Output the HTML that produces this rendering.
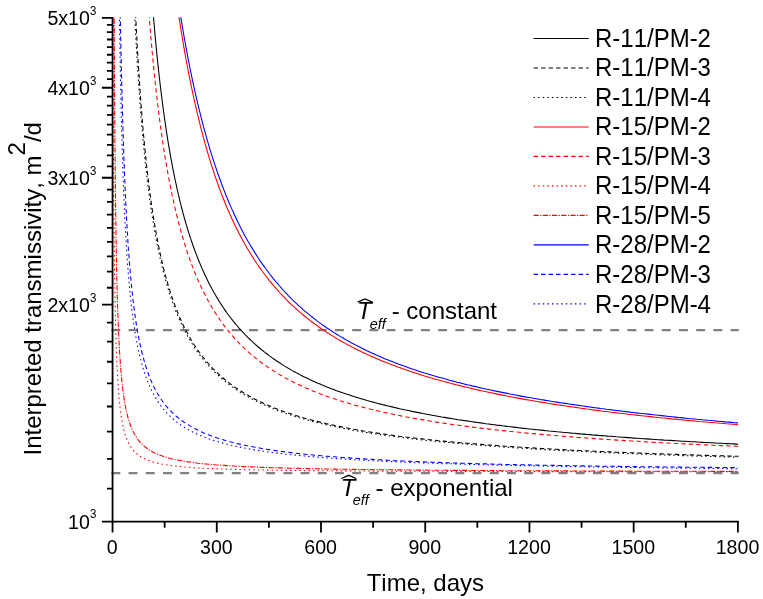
<!DOCTYPE html>
<html><head><meta charset="utf-8"><title>Interpreted transmissivity</title>
<style>
html,body{margin:0;padding:0;background:#fff;}
body{width:763px;height:599px;overflow:hidden;}
svg{display:block;will-change:transform;}
text{font-family:"Liberation Sans",sans-serif;fill:#000;font-kerning:none;}
.tk{font-size:19.6px;}
.sup{font-size:11.5px;}
.lg{font-size:24px;}
.ax{font-size:24px;}
</style></head><body>
<svg width="763" height="599" viewBox="0 0 763 599">
<defs><clipPath id="cp"><rect x="111.8" y="17.3" width="626.9" height="505"/></clipPath></defs>

<g stroke="#808080" stroke-width="2.2" stroke-dasharray="8.9 8.3" fill="none">
<path d="M111.4,330.1 H738.8"/>
<path d="M111.4,473.1 H738.8"/>
</g>
<g clip-path="url(#cp)" fill="none" stroke-width="1.08" stroke-linejoin="round">
<path d="M152.6,6.1 L152.8,9.1 L153.1,12.2 L153.3,15.2 L153.6,18.2 L153.8,21.1 L154.1,24.0 L154.3,26.8 L154.6,29.7 L154.8,32.4 L155.3,37.9 L155.8,43.2 L156.3,48.4 L156.8,53.4 L157.3,58.4 L157.8,63.2 L158.3,67.9 L158.8,72.5 L159.3,77.0 L159.8,81.3 L160.3,85.6 L160.8,89.8 L161.3,93.9 L161.8,97.9 L162.3,101.8 L162.8,105.7 L163.3,109.4 L163.8,113.1 L164.3,116.7 L164.8,120.2 L165.3,123.7 L165.8,127.1 L166.3,130.4 L166.8,133.7 L167.3,136.9 L167.8,140.0 L168.3,143.1 L168.8,146.1 L169.3,149.0 L169.8,151.9 L170.3,154.8 L170.8,157.6 L171.3,160.3 L171.8,163.0 L172.3,165.7 L172.8,168.3 L173.3,170.9 L173.8,173.4 L174.6,177.1 L175.3,180.7 L176.1,184.2 L176.8,187.6 L177.6,191.0 L178.3,194.2 L179.1,197.4 L179.8,200.5 L180.6,203.6 L181.3,206.6 L182.1,209.5 L182.8,212.3 L183.6,215.1 L184.3,217.8 L185.1,220.5 L185.8,223.1 L186.6,225.6 L187.3,228.1 L188.1,230.6 L188.8,233.0 L189.6,235.3 L190.3,237.6 L191.1,239.9 L192.1,242.8 L193.1,245.7 L194.1,248.5 L195.1,251.2 L196.1,253.9 L197.1,256.5 L198.1,259.0 L199.1,261.5 L200.1,263.9 L201.1,266.3 L202.1,268.6 L203.1,270.8 L204.1,273.0 L205.1,275.2 L206.1,277.3 L207.1,279.4 L208.1,281.4 L209.3,283.9 L210.6,286.3 L211.8,288.6 L213.1,290.9 L214.3,293.1 L215.6,295.3 L216.8,297.4 L218.1,299.5 L219.3,301.5 L220.6,303.5 L221.8,305.4 L223.1,307.3 L224.3,309.1 L225.6,310.9 L226.8,312.7 L228.3,314.7 L229.8,316.7 L231.3,318.7 L232.8,320.6 L234.3,322.4 L235.8,324.3 L237.3,326.0 L238.8,327.8 L240.3,329.4 L241.8,331.1 L243.3,332.7 L244.8,334.3 L246.3,335.8 L247.8,337.3 L249.6,339.0 L251.3,340.7 L253.1,342.3 L254.8,343.9 L256.6,345.5 L258.3,347.0 L260.1,348.5 L261.8,349.9 L263.6,351.3 L265.3,352.7 L267.1,354.0 L268.8,355.4 L270.6,356.6 L272.3,357.9 L274.3,359.3 L276.3,360.7 L278.3,362.0 L280.3,363.3 L282.3,364.6 L284.3,365.9 L286.3,367.1 L288.3,368.3 L290.3,369.4 L292.3,370.6 L294.3,371.7 L296.3,372.8 L298.3,373.8 L300.3,374.9 L302.3,375.9 L304.3,376.9 L306.6,378.0 L308.8,379.1 L311.1,380.2 L313.3,381.2 L315.6,382.2 L317.8,383.2 L320.1,384.1 L322.3,385.1 L324.6,386.0 L326.8,386.9 L329.1,387.8 L331.3,388.7 L333.6,389.5 L335.8,390.4 L338.1,391.2 L340.3,392.0 L342.6,392.8 L344.8,393.5 L347.1,394.3 L349.6,395.1 L352.1,395.9 L354.6,396.7 L357.1,397.5 L359.6,398.3 L362.1,399.0 L364.6,399.7 L367.1,400.5 L369.6,401.2 L372.1,401.9 L374.6,402.5 L377.1,403.2 L379.6,403.9 L382.1,404.5 L384.6,405.1 L387.1,405.7 L389.6,406.3 L392.1,406.9 L394.6,407.5 L397.1,408.1 L399.6,408.7 L402.1,409.2 L404.6,409.8 L407.1,410.3 L409.6,410.8 L412.1,411.4 L414.6,411.9 L417.1,412.4 L419.8,412.9 L422.6,413.5 L425.3,414.0 L428.1,414.5 L430.8,415.0 L433.6,415.5 L436.3,416.0 L439.1,416.5 L441.8,417.0 L444.6,417.4 L447.3,417.9 L450.1,418.4 L452.8,418.8 L455.6,419.2 L458.3,419.7 L461.1,420.1 L463.8,420.5 L466.6,420.9 L469.3,421.3 L472.1,421.7 L474.8,422.1 L477.6,422.5 L480.3,422.9 L483.1,423.3 L485.8,423.7 L488.6,424.0 L491.3,424.4 L494.1,424.7 L496.8,425.1 L499.6,425.4 L502.3,425.8 L505.1,426.1 L507.8,426.5 L510.6,426.8 L513.3,427.1 L516.0,427.4 L518.8,427.7 L521.5,428.1 L524.3,428.4 L527.0,428.7 L529.8,429.0 L532.5,429.3 L535.3,429.6 L538.0,429.8 L540.8,430.1 L543.5,430.4 L546.3,430.7 L549.0,431.0 L551.8,431.2 L554.5,431.5 L557.3,431.8 L560.0,432.0 L562.8,432.3 L565.5,432.5 L568.3,432.8 L571.3,433.1 L574.3,433.3 L577.3,433.6 L580.3,433.9 L583.3,434.1 L586.3,434.4 L589.3,434.6 L592.3,434.9 L595.3,435.1 L598.3,435.4 L601.3,435.6 L604.3,435.8 L607.3,436.1 L610.3,436.3 L613.3,436.5 L616.3,436.8 L619.3,437.0 L622.3,437.2 L625.3,437.4 L628.3,437.6 L631.3,437.9 L634.3,438.1 L637.3,438.3 L640.3,438.5 L643.3,438.7 L646.3,438.9 L649.3,439.1 L652.3,439.3 L655.3,439.5 L658.3,439.7 L661.3,439.9 L664.3,440.1 L667.3,440.2 L670.3,440.4 L673.3,440.6 L676.3,440.8 L679.3,441.0 L682.3,441.2 L685.3,441.3 L688.3,441.5 L691.3,441.7 L694.3,441.8 L697.3,442.0 L700.3,442.2 L703.3,442.4 L706.3,442.5 L709.3,442.7 L712.3,442.8 L715.3,443.0 L718.3,443.2 L721.3,443.3 L724.3,443.5 L727.3,443.6 L730.3,443.8 L733.3,443.9 L736.3,444.1 L738.2,444.2" stroke="#000" />
<path d="M135.2,6.4 L135.4,9.4 L135.5,12.3 L135.6,15.2 L135.8,18.5 L136.0,21.7 L136.1,24.8 L136.3,28.0 L136.4,31.0 L136.6,34.1 L136.8,37.1 L136.9,40.0 L137.1,42.9 L137.2,45.8 L137.4,49.0 L137.6,52.1 L137.8,55.2 L138.0,58.2 L138.1,61.2 L138.3,64.2 L138.5,67.1 L138.7,70.0 L138.9,72.8 L139.1,75.9 L139.3,79.0 L139.5,82.0 L139.7,84.9 L139.9,87.8 L140.1,90.7 L140.3,93.5 L140.5,96.6 L140.7,99.6 L140.9,102.6 L141.1,105.5 L141.4,108.3 L141.6,111.2 L141.8,114.2 L142.1,117.2 L142.3,120.1 L142.5,123.0 L142.8,125.8 L143.0,128.6 L143.3,131.6 L143.5,134.5 L143.8,137.3 L144.1,140.2 L144.3,142.9 L144.6,145.9 L144.9,148.7 L145.2,151.6 L145.4,154.3 L145.7,157.1 L146.0,159.9 L146.3,162.8 L146.6,165.5 L146.9,168.3 L147.2,171.1 L147.6,173.9 L147.9,176.6 L148.2,179.3 L148.5,182.1 L148.9,184.9 L149.2,187.6 L149.6,190.4 L149.9,193.1 L150.3,195.8 L150.7,198.5 L151.0,201.2 L151.4,203.9 L151.8,206.5 L152.2,209.2 L152.6,211.9 L153.0,214.5 L153.6,218.0 L154.1,221.1 L154.6,224.1 L155.1,227.0 L155.6,229.9 L156.1,232.7 L156.6,235.5 L157.1,238.1 L157.6,240.8 L158.1,243.3 L158.6,245.8 L159.3,249.5 L160.1,253.0 L160.8,256.4 L161.6,259.8 L162.3,263.0 L163.1,266.1 L163.8,269.1 L164.6,272.1 L165.3,274.9 L166.1,277.7 L166.8,280.4 L167.6,283.0 L168.3,285.6 L169.1,288.1 L169.8,290.5 L170.6,292.8 L171.3,295.1 L172.3,298.1 L173.3,301.0 L174.3,303.7 L175.3,306.4 L176.3,309.0 L177.3,311.6 L178.3,314.0 L179.3,316.4 L180.3,318.7 L181.3,320.9 L182.3,323.1 L183.3,325.2 L184.3,327.2 L185.6,329.7 L186.8,332.1 L188.1,334.4 L189.3,336.7 L190.6,338.8 L191.8,340.9 L193.1,343.0 L194.3,345.0 L195.6,346.9 L196.8,348.7 L198.1,350.5 L199.3,352.3 L200.8,354.3 L202.3,356.3 L203.8,358.2 L205.3,360.0 L206.8,361.8 L208.3,363.5 L209.8,365.2 L211.3,366.8 L212.8,368.4 L214.3,369.9 L216.1,371.7 L217.8,373.3 L219.6,375.0 L221.3,376.5 L223.1,378.0 L224.8,379.5 L226.6,380.9 L228.3,382.3 L230.1,383.6 L231.8,384.9 L233.6,386.2 L235.6,387.6 L237.6,389.0 L239.6,390.3 L241.6,391.5 L243.6,392.8 L245.6,394.0 L247.6,395.1 L249.6,396.3 L251.6,397.4 L253.6,398.4 L255.6,399.4 L257.6,400.5 L259.8,401.6 L262.1,402.6 L264.3,403.7 L266.6,404.7 L268.8,405.6 L271.1,406.6 L273.3,407.5 L275.6,408.4 L277.8,409.3 L280.1,410.1 L282.3,411.0 L284.6,411.8 L286.8,412.5 L289.1,413.3 L291.6,414.1 L294.1,414.9 L296.6,415.7 L299.1,416.5 L301.6,417.2 L304.1,418.0 L306.6,418.7 L309.1,419.3 L311.6,420.0 L314.1,420.7 L316.6,421.3 L319.1,421.9 L321.6,422.5 L324.1,423.1 L326.6,423.7 L329.1,424.3 L331.6,424.8 L334.1,425.4 L336.6,425.9 L339.1,426.4 L341.6,426.9 L344.3,427.5 L347.1,428.0 L349.8,428.5 L352.6,429.0 L355.3,429.5 L358.1,430.0 L360.8,430.5 L363.6,431.0 L366.3,431.4 L369.1,431.9 L371.8,432.3 L374.6,432.7 L377.3,433.1 L380.1,433.5 L382.8,433.9 L385.6,434.3 L388.3,434.7 L391.1,435.1 L393.8,435.5 L396.6,435.8 L399.3,436.2 L402.1,436.5 L404.8,436.9 L407.6,437.2 L410.3,437.6 L413.1,437.9 L415.8,438.2 L418.6,438.5 L421.3,438.8 L424.1,439.1 L426.8,439.4 L429.6,439.7 L432.3,440.0 L435.1,440.3 L437.8,440.6 L440.6,440.8 L443.3,441.1 L446.1,441.4 L448.8,441.6 L451.6,441.9 L454.3,442.1 L457.3,442.4 L460.3,442.7 L463.3,442.9 L466.3,443.2 L469.3,443.4 L472.3,443.7 L475.3,443.9 L478.3,444.2 L481.3,444.4 L484.3,444.6 L487.3,444.9 L490.3,445.1 L493.3,445.3 L496.3,445.5 L499.3,445.8 L502.3,446.0 L505.3,446.2 L508.3,446.4 L511.3,446.6 L514.3,446.8 L517.3,447.0 L520.3,447.2 L523.3,447.4 L526.3,447.5 L529.3,447.7 L532.3,447.9 L535.3,448.1 L538.3,448.3 L541.3,448.5 L544.3,448.6 L547.3,448.8 L550.3,449.0 L553.3,449.1 L556.3,449.3 L559.3,449.5 L562.3,449.6 L565.3,449.8 L568.3,449.9 L571.3,450.1 L574.3,450.2 L577.3,450.4 L580.3,450.5 L583.3,450.7 L586.3,450.8 L589.3,451.0 L592.3,451.1 L595.3,451.2 L598.3,451.4 L601.3,451.5 L604.3,451.6 L607.3,451.8 L610.3,451.9 L613.3,452.0 L616.3,452.2 L619.3,452.3 L622.3,452.4 L625.3,452.5 L628.3,452.7 L631.3,452.8 L634.3,452.9 L637.3,453.0 L640.3,453.1 L643.3,453.2 L646.3,453.4 L649.3,453.5 L652.3,453.6 L655.3,453.7 L658.3,453.8 L661.3,453.9 L664.3,454.0 L667.3,454.1 L670.3,454.2 L673.3,454.3 L676.3,454.4 L679.3,454.5 L682.3,454.6 L685.3,454.7 L688.3,454.8 L691.3,454.9 L694.3,455.0 L697.3,455.1 L700.3,455.2 L703.3,455.3 L706.3,455.4 L709.3,455.5 L712.3,455.6 L715.3,455.7 L718.3,455.8 L721.3,455.8 L724.3,455.9 L727.3,456.0 L730.3,456.1 L733.3,456.2 L736.3,456.3 L738.7,456.3" stroke="#000" stroke-dasharray="4.4 3.1"/>
<path d="M134.3,6.0 L134.4,9.0 L134.5,12.0 L134.7,14.9 L134.8,17.7 L135.0,21.0 L135.1,24.2 L135.3,27.3 L135.5,30.4 L135.6,33.5 L135.8,36.5 L135.9,39.4 L136.1,42.4 L136.3,45.3 L136.4,48.1 L136.6,51.3 L136.8,54.4 L137.0,57.5 L137.1,60.5 L137.3,63.5 L137.5,66.4 L137.7,69.3 L137.9,72.2 L138.1,75.3 L138.3,78.3 L138.5,81.4 L138.7,84.4 L138.9,87.3 L139.1,90.2 L139.3,93.0 L139.5,95.8 L139.7,98.9 L139.9,101.8 L140.1,104.8 L140.3,107.7 L140.6,110.5 L140.8,113.3 L141.0,116.3 L141.3,119.3 L141.5,122.2 L141.7,125.1 L142.0,127.9 L142.2,130.6 L142.5,133.6 L142.7,136.5 L143.0,139.3 L143.3,142.1 L143.5,144.9 L143.8,147.8 L144.1,150.7 L144.4,153.5 L144.6,156.2 L144.9,159.1 L145.2,162.0 L145.5,164.8 L145.8,167.5 L146.1,170.2 L146.5,173.1 L146.8,175.8 L147.1,178.6 L147.4,181.4 L147.8,184.2 L148.1,186.9 L148.5,189.6 L148.8,192.4 L149.2,195.1 L149.5,197.8 L149.9,200.5 L150.3,203.3 L150.7,205.9 L151.1,208.7 L151.5,211.3 L151.9,214.0 L152.4,217.3 L152.9,220.4 L153.4,223.5 L153.9,226.5 L154.4,229.4 L154.9,232.2 L155.4,235.0 L155.9,237.7 L156.4,240.4 L156.9,242.9 L157.4,245.5 L158.2,249.2 L158.9,252.7 L159.7,256.2 L160.4,259.6 L161.2,262.8 L161.9,266.0 L162.7,269.0 L163.4,272.0 L164.2,274.9 L164.9,277.7 L165.7,280.4 L166.4,283.1 L167.2,285.6 L167.9,288.1 L168.7,290.6 L169.4,293.0 L170.2,295.3 L170.9,297.5 L171.9,300.4 L172.9,303.3 L173.9,306.0 L174.9,308.6 L175.9,311.2 L176.9,313.7 L177.9,316.1 L178.9,318.4 L179.9,320.7 L180.9,322.9 L181.9,325.0 L182.9,327.1 L183.9,329.1 L185.2,331.6 L186.4,334.0 L187.7,336.2 L188.9,338.5 L190.2,340.6 L191.4,342.7 L192.7,344.7 L193.9,346.6 L195.2,348.5 L196.4,350.4 L197.7,352.1 L199.2,354.2 L200.7,356.2 L202.2,358.1 L203.7,360.0 L205.2,361.8 L206.7,363.6 L208.2,365.3 L209.7,366.9 L211.2,368.5 L212.7,370.1 L214.2,371.6 L215.9,373.3 L217.7,374.9 L219.4,376.5 L221.2,378.1 L222.9,379.6 L224.7,381.0 L226.4,382.4 L228.2,383.8 L229.9,385.1 L231.7,386.4 L233.7,387.8 L235.7,389.2 L237.7,390.5 L239.7,391.8 L241.7,393.1 L243.7,394.3 L245.7,395.5 L247.7,396.6 L249.7,397.7 L251.7,398.8 L253.7,399.8 L255.7,400.9 L257.9,402.0 L260.2,403.0 L262.4,404.1 L264.7,405.1 L266.9,406.1 L269.2,407.1 L271.4,408.0 L273.7,408.9 L275.9,409.8 L278.2,410.7 L280.4,411.5 L282.7,412.3 L284.9,413.1 L287.2,413.9 L289.4,414.6 L291.9,415.4 L294.4,416.2 L296.9,417.0 L299.4,417.8 L301.9,418.5 L304.4,419.2 L306.9,419.9 L309.4,420.6 L311.9,421.2 L314.4,421.9 L316.9,422.5 L319.4,423.1 L321.9,423.7 L324.4,424.3 L326.9,424.9 L329.4,425.5 L331.9,426.0 L334.4,426.5 L336.9,427.1 L339.4,427.6 L341.9,428.1 L344.7,428.6 L347.4,429.1 L350.2,429.7 L352.9,430.2 L355.7,430.6 L358.4,431.1 L361.2,431.6 L363.9,432.1 L366.7,432.5 L369.4,433.0 L372.2,433.4 L374.9,433.8 L377.7,434.2 L380.4,434.6 L383.2,435.0 L385.9,435.4 L388.7,435.8 L391.4,436.2 L394.2,436.5 L396.9,436.9 L399.7,437.3 L402.4,437.6 L405.2,437.9 L407.9,438.3 L410.7,438.6 L413.4,438.9 L416.2,439.2 L418.9,439.6 L421.7,439.9 L424.4,440.2 L427.2,440.5 L429.9,440.7 L432.7,441.0 L435.4,441.3 L438.2,441.6 L440.9,441.9 L443.7,442.1 L446.4,442.4 L449.2,442.6 L451.9,442.9 L454.7,443.1 L457.7,443.4 L460.7,443.7 L463.7,443.9 L466.7,444.2 L469.7,444.4 L472.7,444.7 L475.7,444.9 L478.7,445.2 L481.7,445.4 L484.7,445.6 L487.7,445.9 L490.7,446.1 L493.7,446.3 L496.7,446.5 L499.7,446.7 L502.7,447.0 L505.7,447.2 L508.7,447.4 L511.6,447.6 L514.6,447.8 L517.6,448.0 L520.6,448.1 L523.6,448.3 L526.6,448.5 L529.6,448.7 L532.6,448.9 L535.6,449.1 L538.6,449.2 L541.6,449.4 L544.6,449.6 L547.6,449.8 L550.6,449.9 L553.6,450.1 L556.6,450.3 L559.6,450.4 L562.6,450.6 L565.6,450.7 L568.6,450.9 L571.6,451.0 L574.6,451.2 L577.6,451.3 L580.6,451.5 L583.6,451.6 L586.6,451.8 L589.6,451.9 L592.6,452.1 L595.6,452.2 L598.6,452.3 L601.6,452.5 L604.6,452.6 L607.6,452.7 L610.6,452.9 L613.6,453.0 L616.6,453.1 L619.6,453.2 L622.6,453.4 L625.6,453.5 L628.6,453.6 L631.6,453.7 L634.6,453.8 L637.6,454.0 L640.6,454.1 L643.6,454.2 L646.6,454.3 L649.6,454.4 L652.6,454.5 L655.6,454.6 L658.6,454.7 L661.6,454.9 L664.6,455.0 L667.6,455.1 L670.6,455.2 L673.6,455.3 L676.6,455.4 L679.6,455.5 L682.6,455.6 L685.6,455.7 L688.6,455.8 L691.6,455.9 L694.6,456.0 L697.6,456.1 L700.6,456.2 L703.6,456.2 L706.6,456.3 L709.6,456.4 L712.6,456.5 L715.6,456.6 L718.6,456.7 L721.6,456.8 L724.6,456.9 L727.6,457.0 L730.6,457.0 L733.6,457.1 L736.6,457.2 L737.8,457.2" stroke="#000" stroke-dasharray="1.5 3.1"/>
<path d="M177.3,6.0 L177.8,9.4 L178.3,12.7 L178.8,16.0 L179.3,19.3 L179.8,22.5 L180.3,25.6 L180.8,28.7 L181.3,31.8 L181.8,34.9 L182.3,37.9 L182.8,40.9 L183.3,43.8 L183.8,46.7 L184.3,49.6 L184.8,52.4 L185.3,55.2 L185.8,58.0 L186.3,60.7 L186.8,63.4 L187.3,66.0 L187.8,68.7 L188.3,71.3 L188.8,73.9 L189.3,76.4 L189.8,78.9 L190.6,82.6 L191.3,86.3 L192.1,89.9 L192.8,93.4 L193.6,96.9 L194.3,100.3 L195.1,103.7 L195.8,107.0 L196.6,110.2 L197.3,113.4 L198.1,116.5 L198.8,119.6 L199.6,122.7 L200.3,125.7 L201.1,128.6 L201.8,131.5 L202.6,134.4 L203.3,137.2 L204.1,139.9 L204.8,142.7 L205.6,145.3 L206.3,148.0 L207.1,150.6 L207.8,153.1 L208.6,155.7 L209.3,158.2 L210.1,160.6 L210.8,163.0 L211.6,165.4 L212.3,167.7 L213.1,170.1 L213.8,172.3 L214.8,175.3 L215.8,178.2 L216.8,181.1 L217.8,183.9 L218.8,186.7 L219.8,189.4 L220.8,192.1 L221.8,194.7 L222.8,197.3 L223.8,199.8 L224.8,202.3 L225.8,204.7 L226.8,207.1 L227.8,209.5 L228.8,211.8 L229.8,214.1 L230.8,216.3 L231.8,218.5 L232.8,220.7 L233.8,222.8 L234.8,224.9 L235.8,227.0 L236.8,229.0 L238.1,231.5 L239.3,233.9 L240.6,236.3 L241.8,238.6 L243.1,240.9 L244.3,243.2 L245.6,245.4 L246.8,247.6 L248.1,249.7 L249.3,251.8 L250.6,253.8 L251.8,255.8 L253.1,257.8 L254.3,259.7 L255.6,261.6 L256.8,263.5 L258.1,265.3 L259.3,267.1 L260.6,268.9 L262.1,271.0 L263.6,273.0 L265.1,275.0 L266.6,277.0 L268.1,278.9 L269.6,280.8 L271.1,282.6 L272.6,284.4 L274.1,286.2 L275.6,287.9 L277.1,289.7 L278.6,291.3 L280.1,293.0 L281.6,294.6 L283.1,296.2 L284.6,297.7 L286.1,299.3 L287.6,300.8 L289.3,302.5 L291.1,304.2 L292.8,305.8 L294.6,307.4 L296.3,309.0 L298.1,310.6 L299.8,312.1 L301.6,313.6 L303.3,315.0 L305.1,316.5 L306.8,317.9 L308.6,319.3 L310.3,320.6 L312.1,322.0 L313.8,323.3 L315.6,324.6 L317.3,325.8 L319.3,327.3 L321.3,328.7 L323.3,330.0 L325.3,331.4 L327.3,332.7 L329.3,333.9 L331.3,335.2 L333.3,336.4 L335.3,337.7 L337.3,338.9 L339.3,340.0 L341.3,341.2 L343.3,342.3 L345.3,343.4 L347.3,344.5 L349.3,345.6 L351.3,346.6 L353.3,347.7 L355.3,348.7 L357.3,349.7 L359.6,350.8 L361.8,351.9 L364.1,353.0 L366.3,354.0 L368.6,355.0 L370.8,356.1 L373.1,357.1 L375.3,358.0 L377.6,359.0 L379.8,359.9 L382.1,360.9 L384.3,361.8 L386.6,362.7 L388.8,363.6 L391.1,364.4 L393.3,365.3 L395.6,366.1 L397.8,367.0 L400.1,367.8 L402.3,368.6 L404.6,369.4 L406.8,370.1 L409.1,370.9 L411.3,371.7 L413.8,372.5 L416.3,373.3 L418.8,374.1 L421.3,374.9 L423.8,375.7 L426.3,376.4 L428.8,377.2 L431.3,377.9 L433.8,378.7 L436.3,379.4 L438.8,380.1 L441.3,380.8 L443.8,381.5 L446.3,382.1 L448.8,382.8 L451.3,383.5 L453.8,384.1 L456.3,384.8 L458.8,385.4 L461.3,386.0 L463.8,386.6 L466.3,387.2 L468.8,387.8 L471.3,388.4 L473.8,389.0 L476.3,389.6 L478.8,390.1 L481.3,390.7 L483.8,391.2 L486.3,391.8 L488.8,392.3 L491.3,392.8 L493.8,393.4 L496.3,393.9 L498.8,394.4 L501.3,394.9 L504.1,395.4 L506.8,396.0 L509.6,396.5 L512.3,397.0 L515.0,397.6 L517.8,398.1 L520.5,398.6 L523.3,399.1 L526.0,399.6 L528.8,400.0 L531.5,400.5 L534.3,401.0 L537.0,401.5 L539.8,401.9 L542.5,402.4 L545.3,402.8 L548.0,403.3 L550.8,403.7 L553.5,404.1 L556.3,404.6 L559.0,405.0 L561.8,405.4 L564.5,405.8 L567.3,406.2 L570.0,406.6 L572.8,407.0 L575.5,407.4 L578.3,407.8 L581.0,408.2 L583.8,408.6 L586.5,409.0 L589.3,409.3 L592.0,409.7 L594.8,410.1 L597.5,410.4 L600.3,410.8 L603.0,411.2 L605.8,411.5 L608.5,411.8 L611.3,412.2 L614.0,412.5 L616.8,412.9 L619.5,413.2 L622.3,413.5 L625.0,413.8 L627.8,414.2 L630.5,414.5 L633.3,414.8 L636.0,415.1 L638.8,415.4 L641.5,415.7 L644.3,416.0 L647.0,416.3 L649.8,416.6 L652.5,416.9 L655.3,417.2 L658.0,417.5 L660.8,417.8 L663.5,418.0 L666.3,418.3 L669.0,418.6 L671.8,418.9 L674.5,419.1 L677.3,419.4 L680.0,419.7 L682.8,419.9 L685.5,420.2 L688.3,420.4 L691.0,420.7 L693.8,420.9 L696.8,421.2 L699.8,421.5 L702.8,421.7 L705.8,422.0 L708.8,422.3 L711.8,422.5 L714.8,422.8 L717.8,423.0 L720.8,423.3 L723.8,423.5 L726.8,423.8 L729.8,424.0 L732.8,424.2 L735.8,424.5 L738.2,424.7" stroke="#f00" />
<path d="M148.4,6.1 L148.6,9.0 L148.8,11.9 L149.1,14.8 L149.3,17.6 L149.5,20.4 L149.7,23.4 L150.0,26.3 L150.2,29.2 L150.5,32.1 L150.7,35.0 L150.9,37.8 L151.2,40.5 L151.4,43.5 L151.7,46.4 L152.0,49.3 L152.2,52.2 L152.5,55.0 L152.8,58.4 L153.3,63.6 L153.8,68.7 L154.3,73.6 L154.8,78.5 L155.3,83.2 L155.8,87.8 L156.3,92.3 L156.8,96.7 L157.3,101.0 L157.8,105.2 L158.3,109.3 L158.8,113.3 L159.3,117.2 L159.8,121.1 L160.3,124.8 L160.8,128.5 L161.3,132.1 L161.8,135.6 L162.3,139.1 L162.8,142.5 L163.3,145.8 L163.8,149.0 L164.3,152.2 L164.8,155.3 L165.3,158.4 L165.8,161.4 L166.3,164.4 L166.8,167.3 L167.3,170.1 L167.8,172.9 L168.3,175.6 L168.8,178.3 L169.3,180.9 L169.8,183.5 L170.3,186.1 L170.8,188.6 L171.6,192.3 L172.3,195.8 L173.1,199.3 L173.8,202.7 L174.6,206.0 L175.3,209.3 L176.1,212.4 L176.8,215.5 L177.6,218.5 L178.3,221.5 L179.1,224.3 L179.8,227.2 L180.6,229.9 L181.3,232.6 L182.1,235.2 L182.8,237.8 L183.6,240.3 L184.3,242.8 L185.1,245.2 L185.8,247.5 L186.6,249.9 L187.3,252.1 L188.3,255.1 L189.3,257.9 L190.3,260.7 L191.3,263.5 L192.3,266.1 L193.3,268.7 L194.3,271.2 L195.3,273.7 L196.3,276.1 L197.3,278.4 L198.3,280.7 L199.3,283.0 L200.3,285.1 L201.3,287.3 L202.3,289.4 L203.3,291.4 L204.6,293.9 L205.8,296.3 L207.1,298.7 L208.3,301.0 L209.6,303.2 L210.8,305.4 L212.1,307.5 L213.3,309.6 L214.6,311.6 L215.8,313.6 L217.1,315.5 L218.3,317.3 L219.6,319.2 L220.8,321.0 L222.3,323.1 L223.8,325.1 L225.3,327.1 L226.8,329.0 L228.3,330.9 L229.8,332.7 L231.3,334.5 L232.8,336.2 L234.3,337.9 L235.8,339.6 L237.3,341.2 L238.8,342.7 L240.3,344.3 L242.1,346.0 L243.8,347.7 L245.6,349.4 L247.3,351.0 L249.1,352.6 L250.8,354.1 L252.6,355.6 L254.3,357.0 L256.1,358.4 L257.8,359.8 L259.6,361.2 L261.3,362.5 L263.1,363.8 L264.8,365.0 L266.8,366.4 L268.8,367.8 L270.8,369.1 L272.8,370.4 L274.8,371.7 L276.8,372.9 L278.8,374.1 L280.8,375.3 L282.8,376.5 L284.8,377.6 L286.8,378.7 L288.8,379.7 L290.8,380.8 L292.8,381.8 L295.1,382.9 L297.3,384.0 L299.6,385.1 L301.8,386.1 L304.1,387.2 L306.3,388.2 L308.6,389.1 L310.8,390.1 L313.1,391.0 L315.3,391.9 L317.6,392.8 L319.8,393.7 L322.1,394.5 L324.3,395.3 L326.6,396.2 L328.8,397.0 L331.1,397.7 L333.3,398.5 L335.8,399.3 L338.3,400.1 L340.8,400.9 L343.3,401.7 L345.8,402.5 L348.3,403.2 L350.8,403.9 L353.3,404.7 L355.8,405.4 L358.3,406.0 L360.8,406.7 L363.3,407.4 L365.8,408.0 L368.3,408.6 L370.8,409.3 L373.3,409.9 L375.8,410.5 L378.3,411.0 L380.8,411.6 L383.3,412.2 L385.8,412.7 L388.3,413.3 L390.8,413.8 L393.3,414.3 L395.8,414.8 L398.3,415.3 L401.1,415.9 L403.8,416.4 L406.6,417.0 L409.3,417.5 L412.1,418.0 L414.8,418.5 L417.6,419.0 L420.3,419.4 L423.1,419.9 L425.8,420.4 L428.6,420.8 L431.3,421.3 L434.1,421.7 L436.8,422.1 L439.6,422.6 L442.3,423.0 L445.1,423.4 L447.8,423.8 L450.6,424.2 L453.3,424.6 L456.1,424.9 L458.8,425.3 L461.6,425.7 L464.3,426.1 L467.1,426.4 L469.8,426.8 L472.6,427.1 L475.3,427.5 L478.1,427.8 L480.8,428.1 L483.6,428.5 L486.3,428.8 L489.1,429.1 L491.8,429.4 L494.6,429.7 L497.3,430.0 L500.1,430.3 L502.8,430.6 L505.6,430.9 L508.3,431.2 L511.1,431.5 L513.8,431.8 L516.5,432.0 L519.3,432.3 L522.0,432.6 L524.8,432.9 L527.5,433.1 L530.3,433.4 L533.0,433.6 L535.8,433.9 L538.8,434.2 L541.8,434.4 L544.8,434.7 L547.8,434.9 L550.8,435.2 L553.8,435.4 L556.8,435.7 L559.8,435.9 L562.8,436.2 L565.8,436.4 L568.8,436.7 L571.8,436.9 L574.8,437.1 L577.8,437.4 L580.8,437.6 L583.8,437.8 L586.8,438.0 L589.8,438.2 L592.8,438.4 L595.8,438.7 L598.8,438.9 L601.8,439.1 L604.8,439.3 L607.8,439.5 L610.8,439.7 L613.8,439.9 L616.8,440.1 L619.8,440.2 L622.8,440.4 L625.8,440.6 L628.8,440.8 L631.8,441.0 L634.8,441.2 L637.8,441.3 L640.8,441.5 L643.8,441.7 L646.8,441.9 L649.8,442.0 L652.8,442.2 L655.8,442.4 L658.8,442.5 L661.8,442.7 L664.8,442.9 L667.8,443.0 L670.8,443.2 L673.8,443.3 L676.8,443.5 L679.8,443.6 L682.8,443.8 L685.8,443.9 L688.8,444.1 L691.8,444.2 L694.8,444.4 L697.8,444.5 L700.8,444.7 L703.8,444.8 L706.8,444.9 L709.8,445.1 L712.8,445.2 L715.8,445.3 L718.8,445.5 L721.8,445.6 L724.8,445.7 L727.8,445.9 L730.8,446.0 L733.8,446.1 L736.8,446.2 L738.2,446.3" stroke="#f00" stroke-dasharray="4.4 3.1"/>
<path d="M112.8,6.7 L112.8,13.0 L112.9,19.2 L112.9,25.3 L112.9,31.2 L112.9,37.0 L112.9,42.6 L113.0,48.1 L113.0,53.5 L113.0,58.7 L113.0,63.8 L113.0,68.9 L113.1,73.8 L113.1,78.5 L113.1,83.2 L113.1,87.8 L113.1,92.3 L113.2,96.7 L113.2,101.0 L113.2,105.2 L113.2,109.3 L113.2,113.4 L113.3,117.3 L113.3,121.2 L113.3,125.0 L113.3,128.7 L113.3,132.4 L113.4,136.0 L113.4,139.5 L113.4,142.9 L113.4,146.3 L113.4,149.6 L113.5,152.9 L113.5,156.1 L113.5,159.2 L113.5,162.3 L113.5,165.4 L113.6,171.2 L113.6,176.9 L113.7,182.4 L113.7,187.7 L113.7,192.9 L113.8,197.8 L113.8,202.7 L113.9,207.3 L113.9,211.8 L113.9,216.2 L114.0,220.4 L114.0,224.5 L114.1,228.5 L114.1,232.4 L114.1,236.2 L114.2,239.8 L114.2,243.4 L114.3,246.8 L114.3,250.2 L114.3,253.5 L114.4,256.6 L114.4,259.7 L114.5,262.8 L114.5,267.1 L114.6,271.4 L114.6,275.4 L114.7,279.3 L114.8,283.1 L114.8,286.7 L114.9,290.3 L114.9,293.6 L115.0,296.9 L115.1,300.1 L115.1,303.2 L115.2,306.1 L115.3,309.9 L115.3,313.6 L115.4,317.1 L115.5,320.5 L115.6,323.7 L115.7,326.8 L115.7,329.8 L115.8,333.4 L115.9,336.8 L116.0,340.1 L116.1,343.2 L116.2,346.2 L116.4,349.6 L116.5,352.9 L116.6,356.0 L116.7,358.9 L116.9,362.2 L117.0,365.3 L117.1,368.3 L117.3,371.5 L117.5,374.5 L117.6,377.4 L117.8,380.4 L118.0,383.3 L118.2,386.3 L118.4,389.1 L118.6,392.0 L118.8,395.0 L119.1,397.7 L119.3,400.5 L119.6,403.3 L119.9,406.1 L120.2,408.9 L120.6,411.6 L120.9,414.3 L121.3,416.9 L121.8,419.5 L122.2,422.1 L122.7,424.7 L123.3,427.2 L123.8,429.7 L124.5,432.1 L125.2,434.5 L125.9,436.8 L126.8,439.0 L127.7,441.1 L128.6,443.2 L129.7,445.2 L130.9,447.0 L132.1,448.8 L133.4,450.5 L134.9,452.0 L136.4,453.5 L138.1,454.9 L139.9,456.2 L141.7,457.3 L143.7,458.4 L145.7,459.3 L147.8,460.2 L150.0,461.0 L152.3,461.8 L154.9,462.5 L157.4,463.1 L159.9,463.7 L162.6,464.2 L165.4,464.7 L168.1,465.1 L170.9,465.5 L173.6,465.9 L176.4,466.2 L179.1,466.5 L181.9,466.7 L184.9,467.0 L187.9,467.2 L190.9,467.5 L193.9,467.7 L196.9,467.9 L199.9,468.0 L202.9,468.2 L205.9,468.4 L208.9,468.5 L211.9,468.6 L214.9,468.7 L217.9,468.9 L220.9,469.0 L223.9,469.1 L226.9,469.2 L229.9,469.3 L232.9,469.3 L235.9,469.4 L238.9,469.5 L241.9,469.6 L244.9,469.7 L247.9,469.7 L250.9,469.8 L253.9,469.8 L256.9,469.9 L259.9,470.0 L262.9,470.0 L265.9,470.1 L268.9,470.1 L271.9,470.2 L274.9,470.2 L277.9,470.2 L280.9,470.3 L283.9,470.3 L286.9,470.4 L289.9,470.4 L292.9,470.4 L295.9,470.5 L298.9,470.5 L301.9,470.5 L304.9,470.6 L307.9,470.6 L310.9,470.6 L313.9,470.7 L316.9,470.7 L319.9,470.7 L322.9,470.7 L325.9,470.8 L328.9,470.8 L331.9,470.8 L334.9,470.8 L337.9,470.8 L340.9,470.9 L343.9,470.9 L346.9,470.9 L349.9,470.9 L352.9,470.9 L355.9,471.0 L358.9,471.0 L361.9,471.0 L364.9,471.0 L367.9,471.0 L370.9,471.1 L373.9,471.1 L376.9,471.1 L379.9,471.1 L382.9,471.1 L385.9,471.1 L388.9,471.1 L391.9,471.2 L394.9,471.2 L397.9,471.2 L400.9,471.2 L403.9,471.2 L406.9,471.2 L409.9,471.2 L412.9,471.2 L415.9,471.3 L418.9,471.3 L421.9,471.3 L424.9,471.3 L427.9,471.3 L430.9,471.3 L433.9,471.3 L436.9,471.3 L439.9,471.3 L442.9,471.3 L445.9,471.4 L448.9,471.4 L451.9,471.4 L454.9,471.4 L457.9,471.4 L460.9,471.4 L463.9,471.4 L466.9,471.4 L469.9,471.4 L472.9,471.4 L475.9,471.4 L478.9,471.4 L481.9,471.4 L484.9,471.5 L487.9,471.5 L490.9,471.5 L493.9,471.5 L496.9,471.5 L499.9,471.5 L502.9,471.5 L505.9,471.5 L508.9,471.5 L511.9,471.5 L514.8,471.5 L517.8,471.5 L520.8,471.5 L523.8,471.5 L526.8,471.5 L529.8,471.6 L532.8,471.6 L535.8,471.6 L538.8,471.6 L541.8,471.6 L544.8,471.6 L547.8,471.6 L550.8,471.6 L553.8,471.6 L556.8,471.6 L559.8,471.6 L562.8,471.6 L565.8,471.6 L568.8,471.6 L571.8,471.6 L574.8,471.6 L577.8,471.6 L580.8,471.6 L583.8,471.6 L586.8,471.6 L589.8,471.6 L592.8,471.7 L595.8,471.7 L598.8,471.7 L601.8,471.7 L604.8,471.7 L607.8,471.7 L610.8,471.7 L613.8,471.7 L616.8,471.7 L619.8,471.7 L622.8,471.7 L625.8,471.7 L628.8,471.7 L631.8,471.7 L634.8,471.7 L637.8,471.7 L640.8,471.7 L643.8,471.7 L646.8,471.7 L649.8,471.7 L652.8,471.7 L655.8,471.7 L658.8,471.7 L661.8,471.7 L664.8,471.7 L667.8,471.7 L670.8,471.7 L673.8,471.7 L676.8,471.7 L679.8,471.8 L682.8,471.8 L685.8,471.8 L688.8,471.8 L691.8,471.8 L694.8,471.8 L697.8,471.8 L700.8,471.8 L703.8,471.8 L706.8,471.8 L709.8,471.8 L712.8,471.8 L715.8,471.8 L718.8,471.8 L721.8,471.8 L724.8,471.8 L727.8,471.8 L730.8,471.8 L733.8,471.8 L736.8,471.8 L738.5,471.8" stroke="#f00" stroke-dasharray="1.5 3.1"/>
<path d="M114.2,9.3 L114.2,13.9 L114.2,18.4 L114.2,22.8 L114.2,27.2 L114.3,31.5 L114.3,35.7 L114.3,39.8 L114.3,43.8 L114.3,47.8 L114.4,51.7 L114.4,55.5 L114.4,59.3 L114.4,63.0 L114.4,66.6 L114.5,70.2 L114.5,73.7 L114.5,77.2 L114.5,80.6 L114.5,83.9 L114.6,87.2 L114.6,90.4 L114.6,93.6 L114.6,96.7 L114.6,99.8 L114.7,102.8 L114.7,108.7 L114.7,114.4 L114.8,120.0 L114.8,125.4 L114.9,130.6 L114.9,135.7 L114.9,140.6 L115.0,145.4 L115.0,150.1 L115.1,154.6 L115.1,159.0 L115.1,163.3 L115.2,167.5 L115.2,171.5 L115.3,175.5 L115.3,179.4 L115.3,183.1 L115.4,186.8 L115.4,190.4 L115.5,193.9 L115.5,197.3 L115.5,200.6 L115.6,203.9 L115.6,207.1 L115.7,210.2 L115.7,213.2 L115.7,216.2 L115.8,220.5 L115.9,224.7 L115.9,228.7 L116.0,232.7 L116.0,236.5 L116.1,240.2 L116.2,243.7 L116.2,247.2 L116.3,250.6 L116.3,253.9 L116.4,257.0 L116.5,260.1 L116.5,263.1 L116.6,267.0 L116.7,270.8 L116.8,274.4 L116.8,277.8 L116.9,281.2 L117.0,284.5 L117.1,287.6 L117.2,290.7 L117.2,293.6 L117.3,297.2 L117.4,300.6 L117.5,303.9 L117.6,307.1 L117.7,310.1 L117.8,313.1 L118.0,316.5 L118.1,319.8 L118.2,322.9 L118.3,325.9 L118.4,328.8 L118.6,332.1 L118.7,335.2 L118.9,338.1 L119.0,341.4 L119.2,344.5 L119.3,347.4 L119.5,350.6 L119.7,353.6 L119.9,356.5 L120.1,359.5 L120.3,362.4 L120.5,365.4 L120.7,368.3 L121.0,371.2 L121.2,374.0 L121.5,376.9 L121.7,379.8 L122.0,382.5 L122.3,385.3 L122.6,388.0 L123.0,390.8 L123.3,393.5 L123.7,396.2 L124.1,398.9 L124.5,401.5 L125.0,404.1 L125.5,406.7 L126.0,409.3 L126.5,411.7 L127.1,414.2 L127.7,416.6 L128.4,419.0 L129.1,421.3 L129.9,423.6 L130.7,425.8 L131.5,428.0 L132.4,430.1 L133.4,432.1 L134.5,434.1 L135.6,436.0 L136.8,437.8 L138.0,439.6 L139.4,441.3 L140.8,442.9 L142.3,444.4 L143.8,445.9 L145.5,447.2 L147.2,448.5 L149.0,449.8 L150.8,450.9 L152.8,452.0 L154.8,453.0 L157.1,454.0 L159.3,455.0 L161.6,455.8 L163.8,456.6 L166.3,457.3 L168.8,458.0 L171.3,458.7 L173.8,459.3 L176.3,459.8 L178.8,460.3 L181.6,460.8 L184.3,461.3 L187.1,461.7 L189.8,462.1 L192.6,462.5 L195.3,462.8 L198.1,463.2 L200.8,463.5 L203.6,463.8 L206.3,464.0 L209.1,464.3 L212.1,464.5 L215.1,464.8 L218.1,465.0 L221.1,465.2 L224.1,465.4 L227.1,465.6 L230.1,465.8 L233.1,466.0 L236.1,466.2 L239.1,466.3 L242.1,466.5 L245.1,466.6 L248.1,466.8 L251.1,466.9 L254.1,467.0 L257.1,467.1 L260.1,467.3 L263.1,467.4 L266.1,467.5 L269.1,467.6 L272.1,467.7 L275.1,467.8 L278.1,467.9 L281.1,467.9 L284.1,468.0 L287.1,468.1 L290.1,468.2 L293.1,468.3 L296.1,468.3 L299.1,468.4 L302.1,468.5 L305.1,468.5 L308.1,468.6 L311.1,468.7 L314.1,468.7 L317.1,468.8 L320.1,468.9 L323.1,468.9 L326.1,469.0 L329.1,469.0 L332.1,469.1 L335.1,469.1 L338.1,469.2 L341.1,469.2 L344.1,469.3 L347.1,469.3 L350.1,469.3 L353.1,469.4 L356.1,469.4 L359.1,469.5 L362.1,469.5 L365.1,469.5 L368.1,469.6 L371.1,469.6 L374.1,469.7 L377.1,469.7 L380.1,469.7 L383.1,469.8 L386.1,469.8 L389.1,469.8 L392.1,469.8 L395.1,469.9 L398.1,469.9 L401.1,469.9 L404.1,470.0 L407.1,470.0 L410.1,470.0 L413.1,470.0 L416.1,470.1 L419.1,470.1 L422.1,470.1 L425.1,470.1 L428.1,470.2 L431.1,470.2 L434.1,470.2 L437.1,470.2 L440.1,470.3 L443.1,470.3 L446.1,470.3 L449.1,470.3 L452.1,470.4 L455.1,470.4 L458.1,470.4 L461.1,470.4 L464.1,470.4 L467.1,470.4 L470.1,470.5 L473.1,470.5 L476.1,470.5 L479.1,470.5 L482.1,470.5 L485.1,470.6 L488.1,470.6 L491.1,470.6 L494.1,470.6 L497.1,470.6 L500.1,470.6 L503.1,470.7 L506.1,470.7 L509.1,470.7 L512.0,470.7 L515.0,470.7 L518.0,470.7 L521.0,470.7 L524.0,470.8 L527.0,470.8 L530.0,470.8 L533.0,470.8 L536.0,470.8 L539.0,470.8 L542.0,470.8 L545.0,470.9 L548.0,470.9 L551.0,470.9 L554.0,470.9 L557.0,470.9 L560.0,470.9 L563.0,470.9 L566.0,470.9 L569.0,470.9 L572.0,471.0 L575.0,471.0 L578.0,471.0 L581.0,471.0 L584.0,471.0 L587.0,471.0 L590.0,471.0 L593.0,471.0 L596.0,471.0 L599.0,471.1 L602.0,471.1 L605.0,471.1 L608.0,471.1 L611.0,471.1 L614.0,471.1 L617.0,471.1 L620.0,471.1 L623.0,471.1 L626.0,471.1 L629.0,471.1 L632.0,471.2 L635.0,471.2 L638.0,471.2 L641.0,471.2 L644.0,471.2 L647.0,471.2 L650.0,471.2 L653.0,471.2 L656.0,471.2 L659.0,471.2 L662.0,471.2 L665.0,471.2 L668.0,471.2 L671.0,471.3 L674.0,471.3 L677.0,471.3 L680.0,471.3 L683.0,471.3 L686.0,471.3 L689.0,471.3 L692.0,471.3 L695.0,471.3 L698.0,471.3 L701.0,471.3 L704.0,471.3 L707.0,471.3 L710.0,471.3 L713.0,471.4 L716.0,471.4 L719.0,471.4 L722.0,471.4 L725.0,471.4 L728.0,471.4 L731.0,471.4 L734.0,471.4 L737.0,471.4 L738.2,471.4" stroke="#f00" stroke-dasharray="5.2 1.4 1.2 1.4"/>
<path d="M179.1,6.7 L179.6,9.8 L180.1,13.0 L180.6,16.1 L181.1,19.1 L181.6,22.1 L182.1,25.1 L182.6,28.1 L183.1,31.0 L183.6,33.9 L184.1,36.7 L184.6,39.5 L185.1,42.3 L185.6,45.1 L186.1,47.8 L186.6,50.5 L187.1,53.2 L187.6,55.8 L188.1,58.4 L188.6,61.0 L189.1,63.5 L189.6,66.0 L190.3,69.8 L191.1,73.4 L191.8,77.1 L192.6,80.6 L193.3,84.1 L194.1,87.5 L194.8,90.9 L195.6,94.2 L196.3,97.5 L197.1,100.8 L197.8,103.9 L198.6,107.1 L199.3,110.1 L200.1,113.2 L200.8,116.2 L201.6,119.1 L202.3,122.0 L203.1,124.9 L203.8,127.7 L204.6,130.5 L205.3,133.2 L206.1,135.9 L206.8,138.5 L207.6,141.2 L208.3,143.7 L209.1,146.3 L209.8,148.8 L210.6,151.3 L211.3,153.7 L212.1,156.1 L212.8,158.5 L213.6,160.8 L214.3,163.1 L215.1,165.4 L216.1,168.4 L217.1,171.3 L218.1,174.2 L219.1,177.0 L220.1,179.8 L221.1,182.5 L222.1,185.2 L223.1,187.8 L224.1,190.4 L225.1,193.0 L226.1,195.5 L227.1,197.9 L228.1,200.3 L229.1,202.7 L230.1,205.1 L231.1,207.4 L232.1,209.6 L233.1,211.8 L234.1,214.0 L235.1,216.2 L236.1,218.3 L237.1,220.4 L238.1,222.5 L239.1,224.5 L240.3,227.0 L241.6,229.4 L242.8,231.8 L244.1,234.2 L245.3,236.5 L246.6,238.7 L247.8,240.9 L249.1,243.1 L250.3,245.3 L251.6,247.4 L252.8,249.4 L254.1,251.4 L255.3,253.4 L256.6,255.4 L257.8,257.3 L259.1,259.2 L260.3,261.1 L261.6,262.9 L262.8,264.7 L264.1,266.4 L265.6,268.5 L267.1,270.5 L268.6,272.5 L270.1,274.5 L271.6,276.4 L273.1,278.3 L274.6,280.1 L276.1,282.0 L277.6,283.7 L279.1,285.5 L280.6,287.2 L282.1,288.9 L283.6,290.5 L285.1,292.1 L286.6,293.7 L288.1,295.3 L289.6,296.8 L291.1,298.4 L292.8,300.1 L294.6,301.8 L296.3,303.4 L298.1,305.1 L299.8,306.7 L301.6,308.2 L303.3,309.8 L305.1,311.3 L306.8,312.7 L308.6,314.2 L310.3,315.6 L312.1,317.0 L313.8,318.4 L315.6,319.7 L317.3,321.1 L319.1,322.4 L320.8,323.6 L322.6,324.9 L324.6,326.3 L326.6,327.7 L328.6,329.0 L330.6,330.4 L332.6,331.7 L334.6,332.9 L336.6,334.2 L338.6,335.4 L340.6,336.6 L342.6,337.8 L344.6,339.0 L346.6,340.1 L348.6,341.3 L350.6,342.4 L352.6,343.4 L354.6,344.5 L356.6,345.6 L358.6,346.6 L360.6,347.6 L362.8,348.7 L365.1,349.8 L367.3,350.9 L369.6,352.0 L371.8,353.0 L374.1,354.0 L376.3,355.0 L378.6,356.0 L380.8,357.0 L383.1,357.9 L385.3,358.9 L387.6,359.8 L389.8,360.7 L392.1,361.6 L394.3,362.5 L396.6,363.3 L398.8,364.2 L401.1,365.0 L403.3,365.8 L405.6,366.6 L407.8,367.4 L410.1,368.2 L412.3,369.0 L414.6,369.7 L417.1,370.6 L419.6,371.4 L422.1,372.2 L424.6,373.0 L427.1,373.7 L429.6,374.5 L432.1,375.3 L434.6,376.0 L437.1,376.7 L439.6,377.4 L442.1,378.1 L444.6,378.8 L447.1,379.5 L449.6,380.2 L452.1,380.9 L454.6,381.5 L457.1,382.2 L459.6,382.8 L462.1,383.4 L464.6,384.1 L467.1,384.7 L469.6,385.3 L472.1,385.9 L474.6,386.4 L477.1,387.0 L479.6,387.6 L482.1,388.2 L484.6,388.7 L487.1,389.3 L489.6,389.8 L492.1,390.3 L494.6,390.9 L497.1,391.4 L499.6,391.9 L502.1,392.4 L504.6,392.9 L507.3,393.4 L510.1,394.0 L512.8,394.5 L515.5,395.0 L518.3,395.6 L521.0,396.1 L523.8,396.6 L526.5,397.1 L529.3,397.5 L532.0,398.0 L534.8,398.5 L537.5,399.0 L540.3,399.5 L543.0,399.9 L545.8,400.4 L548.5,400.8 L551.3,401.3 L554.0,401.7 L556.8,402.1 L559.5,402.6 L562.3,403.0 L565.0,403.4 L567.8,403.8 L570.5,404.2 L573.3,404.6 L576.0,405.0 L578.8,405.4 L581.5,405.8 L584.3,406.2 L587.0,406.6 L589.8,407.0 L592.5,407.4 L595.3,407.7 L598.0,408.1 L600.8,408.5 L603.5,408.8 L606.3,409.2 L609.0,409.5 L611.8,409.9 L614.5,410.2 L617.3,410.6 L620.0,410.9 L622.8,411.2 L625.5,411.6 L628.3,411.9 L631.0,412.2 L633.8,412.6 L636.5,412.9 L639.3,413.2 L642.0,413.5 L644.8,413.8 L647.5,414.1 L650.3,414.4 L653.0,414.7 L655.8,415.0 L658.5,415.3 L661.3,415.6 L664.0,415.9 L666.8,416.2 L669.5,416.5 L672.3,416.8 L675.0,417.1 L677.8,417.4 L680.5,417.6 L683.3,417.9 L686.0,418.2 L688.8,418.5 L691.5,418.7 L694.3,419.0 L697.0,419.3 L699.8,419.5 L702.5,419.8 L705.3,420.0 L708.0,420.3 L710.8,420.5 L713.5,420.8 L716.5,421.1 L719.5,421.3 L722.5,421.6 L725.5,421.9 L728.5,422.1 L731.5,422.4 L734.5,422.7 L737.5,422.9 L738.2,423.0" stroke="#00f" />
<path d="M120.1,6.6 L120.2,10.1 L120.3,13.4 L120.3,16.8 L120.4,20.1 L120.4,23.3 L120.5,26.6 L120.6,29.7 L120.6,32.9 L120.7,36.0 L120.7,39.0 L120.8,42.0 L120.9,45.0 L120.9,48.9 L121.0,52.7 L121.1,56.5 L121.2,60.2 L121.3,63.9 L121.3,67.5 L121.4,71.0 L121.5,74.5 L121.6,77.9 L121.7,81.3 L121.7,84.6 L121.8,87.9 L121.9,91.1 L122.0,94.3 L122.1,97.4 L122.1,100.4 L122.2,103.5 L122.3,106.4 L122.4,109.4 L122.5,113.0 L122.6,116.5 L122.7,120.0 L122.8,123.4 L122.9,126.7 L123.0,130.0 L123.1,133.3 L123.2,136.4 L123.3,139.6 L123.4,142.6 L123.5,145.6 L123.6,148.6 L123.7,151.5 L123.8,154.9 L123.9,158.3 L124.0,161.6 L124.2,164.8 L124.3,168.0 L124.4,171.1 L124.5,174.1 L124.6,177.1 L124.8,180.0 L124.9,183.4 L125.0,186.6 L125.2,189.8 L125.3,193.0 L125.5,196.0 L125.6,199.0 L125.7,202.0 L125.9,204.9 L126.0,208.1 L126.2,211.2 L126.4,214.3 L126.5,217.3 L126.7,220.2 L126.8,223.1 L127.0,226.3 L127.2,229.3 L127.4,232.4 L127.6,235.3 L127.7,238.2 L127.9,241.3 L128.1,244.3 L128.3,247.2 L128.5,250.1 L128.7,252.9 L129.0,255.9 L129.2,258.8 L129.4,261.7 L129.6,264.7 L129.9,267.6 L130.1,270.5 L130.4,273.3 L130.6,276.2 L130.9,279.0 L131.1,281.8 L131.4,284.7 L131.7,287.5 L132.0,290.4 L132.3,293.2 L132.6,295.9 L132.9,298.8 L133.2,301.5 L133.6,304.3 L133.9,307.0 L134.3,309.8 L134.6,312.5 L135.0,315.2 L135.4,317.9 L135.8,320.6 L136.2,323.3 L136.6,325.9 L137.1,328.6 L137.5,331.3 L138.0,333.8 L138.5,336.4 L139.0,339.0 L139.5,341.6 L140.0,344.1 L140.6,346.6 L141.1,349.0 L141.7,351.5 L142.3,353.9 L142.9,356.4 L143.6,358.7 L144.2,361.1 L144.9,363.4 L145.6,365.8 L146.4,368.1 L147.1,370.4 L147.9,372.6 L148.7,374.8 L149.6,377.0 L150.4,379.2 L151.3,381.3 L152.3,383.5 L153.3,385.6 L154.3,387.7 L155.6,390.1 L156.8,392.4 L158.1,394.5 L159.3,396.5 L160.6,398.5 L161.8,400.3 L163.3,402.4 L164.8,404.3 L166.3,406.2 L167.8,407.9 L169.3,409.6 L170.8,411.1 L172.6,412.9 L174.3,414.5 L176.1,416.1 L177.8,417.5 L179.6,418.9 L181.3,420.3 L183.1,421.5 L185.1,422.9 L187.1,424.2 L189.1,425.4 L191.1,426.6 L193.1,427.7 L195.1,428.8 L197.1,429.8 L199.3,430.9 L201.6,431.9 L203.8,432.9 L206.1,433.8 L208.3,434.7 L210.6,435.6 L212.8,436.4 L215.1,437.2 L217.3,438.0 L219.8,438.8 L222.3,439.5 L224.8,440.3 L227.3,441.0 L229.8,441.7 L232.3,442.3 L234.8,443.0 L237.3,443.6 L239.8,444.1 L242.3,444.7 L244.8,445.2 L247.3,445.8 L249.8,446.3 L252.6,446.8 L255.3,447.3 L258.1,447.8 L260.8,448.3 L263.6,448.8 L266.3,449.2 L269.1,449.6 L271.8,450.1 L274.6,450.5 L277.3,450.9 L280.1,451.2 L282.8,451.6 L285.6,452.0 L288.3,452.3 L291.1,452.6 L293.8,453.0 L296.6,453.3 L299.3,453.6 L302.1,453.9 L304.8,454.2 L307.6,454.5 L310.3,454.7 L313.1,455.0 L315.8,455.3 L318.6,455.5 L321.6,455.8 L324.6,456.1 L327.6,456.3 L330.6,456.6 L333.6,456.8 L336.6,457.0 L339.6,457.3 L342.6,457.5 L345.6,457.7 L348.6,457.9 L351.6,458.1 L354.6,458.3 L357.6,458.5 L360.6,458.7 L363.6,458.9 L366.6,459.1 L369.6,459.3 L372.6,459.4 L375.6,459.6 L378.6,459.8 L381.6,459.9 L384.6,460.1 L387.6,460.3 L390.6,460.4 L393.6,460.6 L396.6,460.7 L399.6,460.8 L402.6,461.0 L405.6,461.1 L408.6,461.2 L411.6,461.4 L414.6,461.5 L417.6,461.6 L420.6,461.8 L423.6,461.9 L426.6,462.0 L429.6,462.1 L432.6,462.2 L435.6,462.3 L438.6,462.4 L441.6,462.5 L444.6,462.7 L447.6,462.8 L450.6,462.9 L453.6,463.0 L456.6,463.1 L459.6,463.1 L462.6,463.2 L465.6,463.3 L468.6,463.4 L471.6,463.5 L474.6,463.6 L477.6,463.7 L480.6,463.8 L483.6,463.8 L486.6,463.9 L489.6,464.0 L492.6,464.1 L495.6,464.2 L498.6,464.2 L501.6,464.3 L504.6,464.4 L507.6,464.5 L510.6,464.5 L513.5,464.6 L516.5,464.7 L519.5,464.7 L522.5,464.8 L525.5,464.9 L528.5,464.9 L531.5,465.0 L534.5,465.0 L537.5,465.1 L540.5,465.2 L543.5,465.2 L546.5,465.3 L549.5,465.3 L552.5,465.4 L555.5,465.4 L558.5,465.5 L561.5,465.5 L564.5,465.6 L567.5,465.7 L570.5,465.7 L573.5,465.8 L576.5,465.8 L579.5,465.9 L582.5,465.9 L585.5,465.9 L588.5,466.0 L591.5,466.0 L594.5,466.1 L597.5,466.1 L600.5,466.2 L603.5,466.2 L606.5,466.3 L609.5,466.3 L612.5,466.3 L615.5,466.4 L618.5,466.4 L621.5,466.5 L624.5,466.5 L627.5,466.5 L630.5,466.6 L633.5,466.6 L636.5,466.6 L639.5,466.7 L642.5,466.7 L645.5,466.8 L648.5,466.8 L651.5,466.8 L654.5,466.9 L657.5,466.9 L660.5,466.9 L663.5,467.0 L666.5,467.0 L669.5,467.0 L672.5,467.0 L675.5,467.1 L678.5,467.1 L681.5,467.1 L684.5,467.2 L687.5,467.2 L690.5,467.2 L693.5,467.2 L696.5,467.3 L699.5,467.3 L702.5,467.3 L705.5,467.4 L708.5,467.4 L711.5,467.4 L714.5,467.4 L717.5,467.5 L720.5,467.5 L723.5,467.5 L726.5,467.5 L729.5,467.6 L732.5,467.6 L735.5,467.6 L738.2,467.6" stroke="#00f" stroke-dasharray="4.4 3.1"/>
<path d="M119.3,6.0 L119.3,10.3 L119.4,14.5 L119.5,18.6 L119.5,22.6 L119.6,26.6 L119.6,30.4 L119.7,34.3 L119.8,38.0 L119.8,41.7 L119.9,45.3 L119.9,48.9 L120.0,52.4 L120.1,55.8 L120.1,59.2 L120.2,62.5 L120.2,65.8 L120.3,69.0 L120.4,72.1 L120.4,75.2 L120.5,78.3 L120.5,81.3 L120.6,84.3 L120.7,88.2 L120.8,92.0 L120.8,95.7 L120.9,99.4 L121.0,102.9 L121.1,106.5 L121.2,109.9 L121.2,113.3 L121.3,116.6 L121.4,119.8 L121.5,123.0 L121.6,126.2 L121.6,129.2 L121.7,132.3 L121.8,135.2 L121.9,138.8 L122.0,142.4 L122.1,145.9 L122.2,149.3 L122.3,152.6 L122.4,155.9 L122.5,159.0 L122.6,162.2 L122.7,165.2 L122.8,168.2 L122.9,171.2 L123.0,174.6 L123.1,178.0 L123.3,181.3 L123.4,184.5 L123.5,187.7 L123.6,190.7 L123.7,193.7 L123.9,196.7 L124.0,199.6 L124.1,202.8 L124.3,206.1 L124.4,209.2 L124.5,212.2 L124.7,215.2 L124.8,218.1 L125.0,221.4 L125.1,224.5 L125.3,227.6 L125.5,230.6 L125.6,233.5 L125.8,236.4 L126.0,239.5 L126.1,242.6 L126.3,245.5 L126.5,248.4 L126.7,251.5 L126.9,254.6 L127.1,257.5 L127.3,260.4 L127.5,263.5 L127.7,266.4 L128.0,269.3 L128.2,272.1 L128.4,275.1 L128.7,278.0 L128.9,280.8 L129.2,283.7 L129.4,286.6 L129.7,289.3 L130.0,292.2 L130.2,295.0 L130.5,297.9 L130.8,300.7 L131.1,303.4 L131.5,306.2 L131.8,308.9 L132.1,311.7 L132.5,314.4 L132.8,317.1 L133.2,319.8 L133.6,322.5 L134.0,325.2 L134.4,327.8 L134.8,330.5 L135.2,333.2 L135.7,335.8 L136.1,338.4 L136.6,341.0 L137.1,343.6 L137.6,346.1 L138.1,348.6 L138.7,351.1 L139.2,353.6 L139.8,356.0 L140.4,358.5 L141.0,360.9 L141.7,363.3 L142.3,365.6 L143.0,368.0 L143.7,370.3 L144.5,372.6 L145.2,374.9 L146.0,377.1 L146.8,379.4 L147.7,381.5 L148.6,383.7 L149.5,385.8 L150.4,387.9 L151.4,390.0 L152.4,392.0 L153.6,394.2 L154.8,396.5 L156.1,398.6 L157.3,400.6 L158.6,402.6 L159.8,404.4 L161.3,406.4 L162.8,408.3 L164.3,410.2 L165.8,411.9 L167.3,413.5 L168.8,415.1 L170.6,416.8 L172.3,418.4 L174.1,419.9 L175.8,421.3 L177.6,422.7 L179.3,424.0 L181.3,425.4 L183.3,426.7 L185.3,427.9 L187.3,429.1 L189.3,430.2 L191.3,431.3 L193.3,432.3 L195.6,433.4 L197.8,434.4 L200.1,435.4 L202.3,436.3 L204.6,437.2 L206.8,438.1 L209.1,438.9 L211.3,439.7 L213.8,440.5 L216.3,441.2 L218.8,442.0 L221.3,442.7 L223.8,443.4 L226.3,444.0 L228.8,444.7 L231.3,445.3 L233.8,445.8 L236.3,446.4 L238.8,446.9 L241.3,447.4 L244.1,448.0 L246.8,448.5 L249.6,449.0 L252.3,449.5 L255.1,449.9 L257.8,450.4 L260.6,450.8 L263.3,451.2 L266.1,451.6 L268.8,452.0 L271.6,452.4 L274.3,452.7 L277.1,453.1 L279.8,453.4 L282.6,453.7 L285.3,454.1 L288.1,454.4 L290.8,454.7 L293.6,454.9 L296.3,455.2 L299.1,455.5 L301.8,455.8 L304.6,456.0 L307.3,456.3 L310.3,456.5 L313.3,456.8 L316.3,457.0 L319.3,457.3 L322.3,457.5 L325.3,457.8 L328.3,458.0 L331.3,458.2 L334.3,458.4 L337.3,458.6 L340.3,458.8 L343.3,459.0 L346.3,459.2 L349.3,459.4 L352.3,459.6 L355.3,459.8 L358.3,459.9 L361.3,460.1 L364.3,460.3 L367.3,460.4 L370.3,460.6 L373.3,460.7 L376.3,460.9 L379.3,461.0 L382.3,461.2 L385.3,461.3 L388.3,461.5 L391.3,461.6 L394.3,461.7 L397.3,461.9 L400.3,462.0 L403.3,462.1 L406.3,462.2 L409.3,462.4 L412.3,462.5 L415.3,462.6 L418.3,462.7 L421.3,462.8 L424.3,462.9 L427.3,463.0 L430.3,463.1 L433.3,463.3 L436.3,463.4 L439.3,463.5 L442.3,463.6 L445.3,463.6 L448.3,463.7 L451.3,463.8 L454.3,463.9 L457.3,464.0 L460.3,464.1 L463.3,464.2 L466.3,464.3 L469.3,464.4 L472.3,464.4 L475.3,464.5 L478.3,464.6 L481.3,464.7 L484.3,464.8 L487.3,464.8 L490.3,464.9 L493.3,465.0 L496.3,465.1 L499.3,465.1 L502.3,465.2 L505.3,465.3 L508.3,465.3 L511.3,465.4 L514.3,465.5 L517.3,465.5 L520.3,465.6 L523.3,465.7 L526.3,465.7 L529.3,465.8 L532.3,465.9 L535.3,465.9 L538.3,466.0 L541.3,466.0 L544.3,466.1 L547.3,466.2 L550.3,466.2 L553.3,466.3 L556.3,466.3 L559.3,466.4 L562.3,466.4 L565.3,466.5 L568.3,466.5 L571.3,466.6 L574.3,466.6 L577.3,466.7 L580.3,466.7 L583.3,466.8 L586.3,466.8 L589.3,466.9 L592.3,466.9 L595.3,467.0 L598.3,467.0 L601.3,467.1 L604.3,467.1 L607.3,467.2 L610.3,467.2 L613.3,467.3 L616.3,467.3 L619.3,467.3 L622.3,467.4 L625.3,467.4 L628.3,467.5 L631.3,467.5 L634.3,467.5 L637.3,467.6 L640.3,467.6 L643.3,467.7 L646.3,467.7 L649.3,467.7 L652.3,467.8 L655.3,467.8 L658.3,467.9 L661.3,467.9 L664.3,467.9 L667.3,468.0 L670.3,468.0 L673.3,468.0 L676.3,468.1 L679.3,468.1 L682.3,468.1 L685.3,468.2 L688.3,468.2 L691.3,468.2 L694.3,468.3 L697.3,468.3 L700.3,468.3 L703.3,468.4 L706.3,468.4 L709.3,468.4 L712.3,468.5 L715.3,468.5 L718.3,468.5 L721.3,468.5 L724.3,468.6 L727.3,468.6 L730.3,468.6 L733.3,468.7 L736.3,468.7 L738.2,468.7" stroke="#00f" stroke-dasharray="1.5 3.1"/>
</g>
<g stroke="#000" stroke-width="1.8" fill="none" stroke-linecap="butt">
<path d="M112.55,17.00 V522.50"/>
<path d="M111.65,521.6 H738.80"/>
<path d="M101.95,521.60 H112.55 M106.95,488.63 H112.55 M106.95,458.80 H112.55 M106.95,431.57 H112.55 M106.95,406.51 H112.55 M106.95,383.32 H112.55 M106.95,361.73 H112.55 M106.95,341.53 H112.55 M106.95,322.56 H112.55 M101.95,304.67 H112.55 M106.95,287.75 H112.55 M106.95,271.69 H112.55 M106.95,256.42 H112.55 M106.95,241.87 H112.55 M106.95,227.95 H112.55 M106.95,214.63 H112.55 M106.95,201.86 H112.55 M106.95,189.58 H112.55 M101.95,177.77 H112.55 M106.95,166.39 H112.55 M106.95,155.41 H112.55 M106.95,144.80 H112.55 M106.95,134.53 H112.55 M106.95,124.60 H112.55 M106.95,114.97 H112.55 M106.95,105.63 H112.55 M106.95,96.55 H112.55 M101.95,87.74 H112.55 M106.95,79.16 H112.55 M106.95,70.82 H112.55 M106.95,62.69 H112.55 M106.95,54.76 H112.55 M106.95,47.03 H112.55 M106.95,39.49 H112.55 M106.95,32.13 H112.55 M106.95,24.93 H112.55 M101.95,17.90 H112.55"/>
<path d="M112.55,521.6 V532.4 M164.66,521.6 V527.8000000000001 M216.77,521.6 V532.4 M268.89,521.6 V527.8000000000001 M321.00,521.6 V532.4 M373.11,521.6 V527.8000000000001 M425.23,521.6 V532.4 M477.34,521.6 V527.8000000000001 M529.45,521.6 V532.4 M581.56,521.6 V527.8000000000001 M633.67,521.6 V532.4 M685.79,521.6 V527.8000000000001 M737.90,521.6 V532.4"/>
</g>
<text class="tk" transform="translate(89.9,25.3) scale(1,1.045)" text-anchor="end">5x10</text><text class="sup" transform="translate(89.9,14.7) scale(1,1.045)">3</text>
<text class="tk" transform="translate(89.9,95.1) scale(1,1.045)" text-anchor="end">4x10</text><text class="sup" transform="translate(89.9,84.5) scale(1,1.045)">3</text>
<text class="tk" transform="translate(89.9,185.2) scale(1,1.045)" text-anchor="end">3x10</text><text class="sup" transform="translate(89.9,174.6) scale(1,1.045)">3</text>
<text class="tk" transform="translate(89.9,312.1) scale(1,1.045)" text-anchor="end">2x10</text><text class="sup" transform="translate(89.9,301.5) scale(1,1.045)">3</text>
<text class="tk" transform="translate(89.9,529.0) scale(1,1.045)" text-anchor="end">10</text><text class="sup" transform="translate(89.9,518.4) scale(1,1.045)">3</text>
<text class="tk" transform="translate(112.1,553.7) scale(1,1.045)" text-anchor="middle">0</text>
<text class="tk" transform="translate(216.4,553.7) scale(1,1.045)" text-anchor="middle">300</text>
<text class="tk" transform="translate(320.6,553.7) scale(1,1.045)" text-anchor="middle">600</text>
<text class="tk" transform="translate(424.8,553.7) scale(1,1.045)" text-anchor="middle">900</text>
<text class="tk" transform="translate(529.0,553.7) scale(1,1.045)" text-anchor="middle">1200</text>
<text class="tk" transform="translate(633.3,553.7) scale(1,1.045)" text-anchor="middle">1500</text>
<text class="tk" transform="translate(737.5,553.7) scale(1,1.045)" text-anchor="middle">1800</text>
<text class="ax" x="425.4" y="591" text-anchor="middle">Time, days</text>
<text class="ax" transform="translate(40.8,455.5) rotate(-90)">Interpreted transmissivity, m<tspan dy="-15.8">2</tspan><tspan dy="15.8">/d</tspan></text>
<path d="M533.6,38.45 H588.7" stroke="#000" stroke-width="1.08" fill="none" />
<text class="lg" transform="translate(595,46.5) scale(1,1.045)">R-11/PM-2</text>
<path d="M533.6,67.94 H588.7" stroke="#000" stroke-width="1.08" fill="none" stroke-dasharray="4.4 3.1"/>
<text class="lg" transform="translate(595,76.1) scale(1,1.045)">R-11/PM-3</text>
<path d="M533.6,97.43 H588.7" stroke="#000" stroke-width="1.08" fill="none" stroke-dasharray="1.5 3.1"/>
<text class="lg" transform="translate(595,105.6) scale(1,1.045)">R-11/PM-4</text>
<path d="M533.6,126.92 H588.7" stroke="#f00" stroke-width="1.08" fill="none" />
<text class="lg" transform="translate(595,135.2) scale(1,1.045)">R-15/PM-2</text>
<path d="M533.6,156.41 H588.7" stroke="#f00" stroke-width="1.08" fill="none" stroke-dasharray="4.4 3.1"/>
<text class="lg" transform="translate(595,164.7) scale(1,1.045)">R-15/PM-3</text>
<path d="M533.6,185.90 H588.7" stroke="#f00" stroke-width="1.08" fill="none" stroke-dasharray="1.5 3.1"/>
<text class="lg" transform="translate(595,194.3) scale(1,1.045)">R-15/PM-4</text>
<path d="M533.6,215.39 H588.7" stroke="#f00" stroke-width="1.08" fill="none" stroke-dasharray="5.2 1.4 1.2 1.4"/>
<text class="lg" transform="translate(595,223.9) scale(1,1.045)">R-15/PM-5</text>
<path d="M533.6,244.88 H588.7" stroke="#00f" stroke-width="1.08" fill="none" />
<text class="lg" transform="translate(595,253.4) scale(1,1.045)">R-28/PM-2</text>
<path d="M533.6,274.37 H588.7" stroke="#00f" stroke-width="1.08" fill="none" stroke-dasharray="4.4 3.1"/>
<text class="lg" transform="translate(595,283.0) scale(1,1.045)">R-28/PM-3</text>
<path d="M533.6,303.86 H588.7" stroke="#00f" stroke-width="1.08" fill="none" stroke-dasharray="1.5 3.1"/>
<text class="lg" transform="translate(595,312.5) scale(1,1.045)">R-28/PM-4</text>
<text class="lg" x="357.0" y="319.4"><tspan font-style="italic">T</tspan><tspan font-style="italic" font-size="14.5px" dy="9.3" dx="-2.0">eff</tspan><tspan dy="-9.3" dx="-0.8"> - constant</tspan></text><path d="M357.6,302.1 L365.0,298.9 L372.4,302.1" fill="none" stroke="#000" stroke-width="1.3" stroke-linejoin="miter"/>
<text class="lg" x="340.8" y="495.8"><tspan font-style="italic">T</tspan><tspan font-style="italic" font-size="14.5px" dy="9.3" dx="-2.8">eff</tspan><tspan dy="-9.3" dx="0.0"> - exponential</tspan></text><path d="M341.4,478.5 L348.8,475.3 L356.2,478.5" fill="none" stroke="#000" stroke-width="1.3" stroke-linejoin="miter"/>
</svg></body></html>
